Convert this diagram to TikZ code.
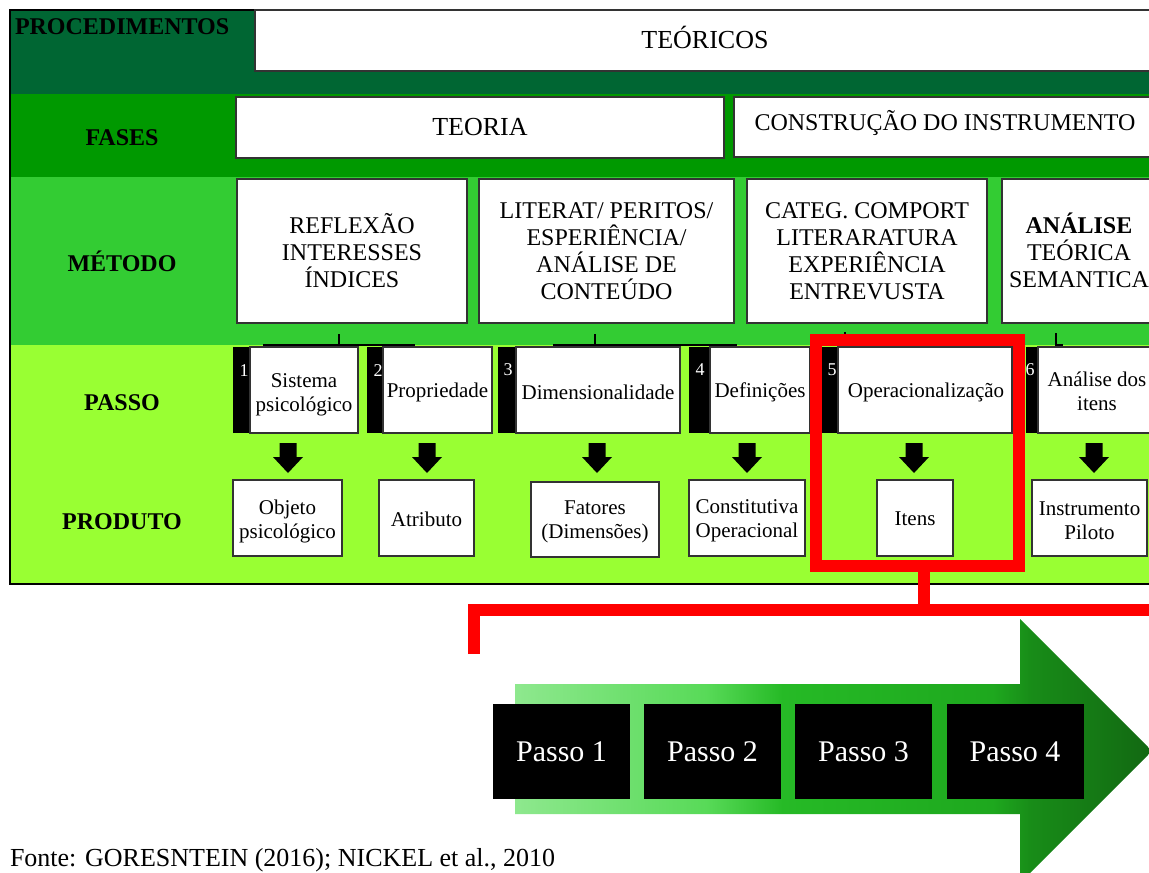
\documentclass[tikz,border=0pt]{standalone}
\usepackage{fontspec}
\setmainfont{Liberation Serif}
\definecolor{procgreen}{HTML}{006633}
\definecolor{fasegreen}{HTML}{009900}
\definecolor{metgreen}{HTML}{33CC33}
\definecolor{passgreen}{HTML}{99FF33}
\definecolor{framered}{HTML}{FF0000}
\definecolor{arrA}{RGB}{142,232,142}
\definecolor{arrB}{RGB}{88,218,88}
\definecolor{arrC}{RGB}{38,186,38}
\definecolor{arrD}{RGB}{30,168,30}
\definecolor{arrE}{RGB}{24,140,24}
\definecolor{arrF}{RGB}{18,104,18}
% the path's bounding box spans 25bp..75bp of the shading
\pgfdeclarehorizontalshading{procarrow}{100bp}{%
  color(0bp)=(arrA); color(25bp)=(arrA); color(40bp)=(arrB); color(46bp)=(arrC);
  color(62.5bp)=(arrD); color(65.5bp)=(arrE); color(75bp)=(arrF); color(100bp)=(arrF)}

\begin{document}
\begin{tikzpicture}[x=1pt,y=-1pt,
  every node/.style={inner sep=0pt, outer sep=0pt},
  wbox/.style={draw=black!80, line width=1.3pt, fill=white},
  txt/.style={align=center},
  hdrfont/.style={font=\fontsize{26}{30}\selectfont},
  fasefont/.style={font=\fontsize{24}{28}\selectfont},
  metfont/.style={font=\fontsize{24}{27}\selectfont},
  stepfont/.style={font=\fontsize{21}{24}\selectfont},
  lbl/.style={font=\fontsize{24}{28}\selectfont\bfseries},
  numlbl/.style={font=\fontsize{18}{20}\selectfont, text=white},
  numbar/.style={fill=black, minimum height=86},
  passobox/.style={fill=black, text=white, font=\fontsize{30}{34}\selectfont,
    minimum width=137, minimum height=95},
  tick/.style={line width=2pt},
  redline/.style={draw=framered, line width=12pt},
  downarr/.pic={\fill[black] (-8.5,0) -- (8.5,0) -- (8.5,14) -- (15,14) -- (0,30)
    -- (-15,14) -- (-8.5,14) -- cycle;},
]
\useasboundingbox (0,0) rectangle (1149,873);
\clip (0,0) rectangle (1149,873);

% row bands
\fill[procgreen] (10,10) rectangle (1170,94);
\fill[fasegreen] (10,94) rectangle (1170,177);
\fill[metgreen]  (10,177) rectangle (1170,345);
\fill[passgreen] (10,345) rectangle (1170,584);
\draw[line width=2.5pt] (10,10) rectangle (1170,584);

% row labels
\node[lbl, anchor=base west] (lproc) at (15,34) {PROCEDIMENTOS};
\node[lbl, anchor=base] (lfas) at (122,145) {FASES};
\node[lbl, anchor=base] (lmet) at (122,271) {MÉTODO};
\node[lbl, anchor=base] (lpas) at (122,410) {PASSO};
\node[lbl, anchor=base] (lpro) at (122,529) {PRODUTO};

% procedures and phases
\node[wbox, minimum width=900, minimum height=61] (teor) at (705,40.5) {};
\node[hdrfont] (teort) at ([yshift=3pt]teor.center) {TEÓRICOS};
\node[wbox, minimum width=488, minimum height=61] (fteo) at (480,127.5) {};
\node[hdrfont] (fteot) at (fteo.center) {TEORIA};
\node[wbox, minimum width=422, minimum height=60] (fcon) at (945,127) {};
\node[fasefont] (fcont) at ([yshift=4pt]fcon.center) {CONSTRUÇÃO DO INSTRUMENTO};

% methods
\node[wbox, minimum width=230, minimum height=144] (m1) at (352,251) {};
\node[metfont, txt] (m1t) at (m1.center) {REFLEXÃO\\INTERESSES\\ÍNDICES};
\node[wbox, minimum width=255, minimum height=144] (m2) at (606.5,251) {};
\node[metfont, txt] (m2t) at (m2.center) {LITERAT/ PERITOS/\\ESPERIÊNCIA/\\ANÁLISE DE\\CONTEÚDO};
\node[wbox, minimum width=240, minimum height=144] (m3) at (867,251) {};
\node[metfont, txt] (m3t) at (m3.center) {CATEG. COMPORT\\LITERARATURA\\EXPERIÊNCIA\\ENTREVUSTA};
\node[wbox, minimum width=154, minimum height=144] (m4) at (1079,251) {};
\node[metfont, txt] (m4t) at ([yshift=1pt]m4.center) {\textbf{ANÁLISE}\\TEÓRICA\\SEMANTICA};

% method-to-step connectors
\coordinate (k1) at (339,334);
\coordinate (k2) at (595,334);
\coordinate (k3) at (845,332);
\coordinate (k4) at (1056,333);
\draw[tick] (k1) -- ++(0,11);
\draw[tick] (263,345) -- (415,345);
\draw[tick] (k2) -- ++(0,11);
\draw[tick] (553,345) -- (737,345);
\draw[tick] (k3) -- ++(0,12);
\draw[tick] (k4) |- ++(7,12);

% step bars
\node[numbar, minimum width=17] (b1) at (241.5,390) {};
\node[numbar, minimum width=16] (b2) at (375,390) {};
\node[numbar, minimum width=18] (b3) at (507,390) {};
\node[numbar, minimum width=21] (b4) at (699.5,390) {};
\node[numbar, minimum width=16] (b5) at (830,390) {};
\node[numbar, minimum width=12] (b6) at (1032,390) {};

% steps
\node[wbox, minimum width=108, minimum height=86] (s1) at (304,390) {};
\node[stepfont, txt] (s1t) at ([yshift=-5pt]s1.center) {Sistema\\psicológico};
\node[wbox, minimum width=109, minimum height=86] (s2) at (437.5,390) {};
\node[stepfont] (s2t) at ([yshift=-2pt]s2.center) {Propriedade};
\node[wbox, minimum width=164, minimum height=86] (s3) at (598,390) {};
\node[stepfont] (s3t) at ([yshift=-2pt]s3.center) {Dimensionalidade};
\node[wbox, minimum width=100, minimum height=86] (s4) at (760,390) {};
\node[stepfont] (s4t) at ([yshift=-2pt]s4.center) {Definições};
\node[wbox, minimum width=174, minimum height=86] (s5) at (925,390) {};
\node[stepfont] (s5t) at ([yshift=-2pt, xshift=1pt]s5.center) {Operacionalização};
\node[wbox, minimum width=118, minimum height=86] (s6) at (1097,390) {};
\node[stepfont, txt] (s6t) at ([yshift=-1pt]s6.center) {Análise dos\\itens};

% step numbers
\node[numlbl] (n1) at (244,371) {1};
\node[numlbl] (n2) at (378,371) {2};
\node[numlbl] (n3) at (508,370) {3};
\node[numlbl] (n4) at (700,370) {4};
\node[numlbl] (n5) at (832,370) {5};
\node[numlbl] (n6) at (1030,370) {6};

% block arrows
\pic at (288,443) {downarr};
\pic at (427,443) {downarr};
\pic at (597,443) {downarr};
\pic at (747,443) {downarr};
\pic at (914,443) {downarr};
\pic at (1094,443) {downarr};

% products
\node[wbox, minimum width=109, minimum height=76] (r1) at (287.5,518) {};
\node[stepfont, txt] (r1t) at ([yshift=-3pt]r1.center) {Objeto\\psicológico};
\node[wbox, minimum width=95, minimum height=76] (r2) at (426.5,518) {};
\node[stepfont] (r2t) at ([yshift=-1pt]r2.center) {Atributo};
\node[wbox, minimum width=128, minimum height=75] (r3) at (595,519.5) {};
\node[stepfont, txt] (r3t) at ([yshift=-2pt]r3.center) {Fatores\\(Dimensões)};
\node[wbox, minimum width=116, minimum height=76] (r4) at (747,518) {};
\node[stepfont, txt] (r4t) at ([yshift=-3pt]r4.center) {Constitutiva\\Operacional};
\node[wbox, minimum width=76, minimum height=76] (r5) at (915,518) {};
\node[stepfont] (r5t) at ([yshift=-1pt]r5.center) {Itens};
\node[wbox, minimum width=115, minimum height=76] (r6) at (1089.5,518) {};
\node[stepfont, txt] (r6t) at ([yshift=-3pt]r6.center) {Instrumento\\Piloto};

% highlight frame and its lead
\node[redline, minimum width=203, minimum height=226] (sel) at (917.5,453) {};
\coordinate (leadL) at (474,654);
\coordinate (leadR) at (1170,610);
\draw[redline] (sel.south -| 924,0) -- (924,610);
\draw[redline] (leadL) |- (leadR);

% process arrow
\shade[shading=procarrow]
  (515,684) -- (1020,684) -- (1020,619) -- (1152,751) -- (1020,883)
  -- (1020,814) -- (515,814) -- cycle;
\node[passobox] (q1) at (561.5,751.5) {Passo 1};
\node[passobox] (q2) at (712.5,751.5) {Passo 2};
\node[passobox] (q3) at (863.5,751.5) {Passo 3};
\node[passobox] (q4) at (1015,751.5) {Passo 4};

% source line
\node[anchor=base west, font=\fontsize{26}{30}\selectfont] (src) at (10,866)
  {Fonte: GORESNTEIN (2016); NICKEL et al., 2010};
\end{tikzpicture}
\end{document}
